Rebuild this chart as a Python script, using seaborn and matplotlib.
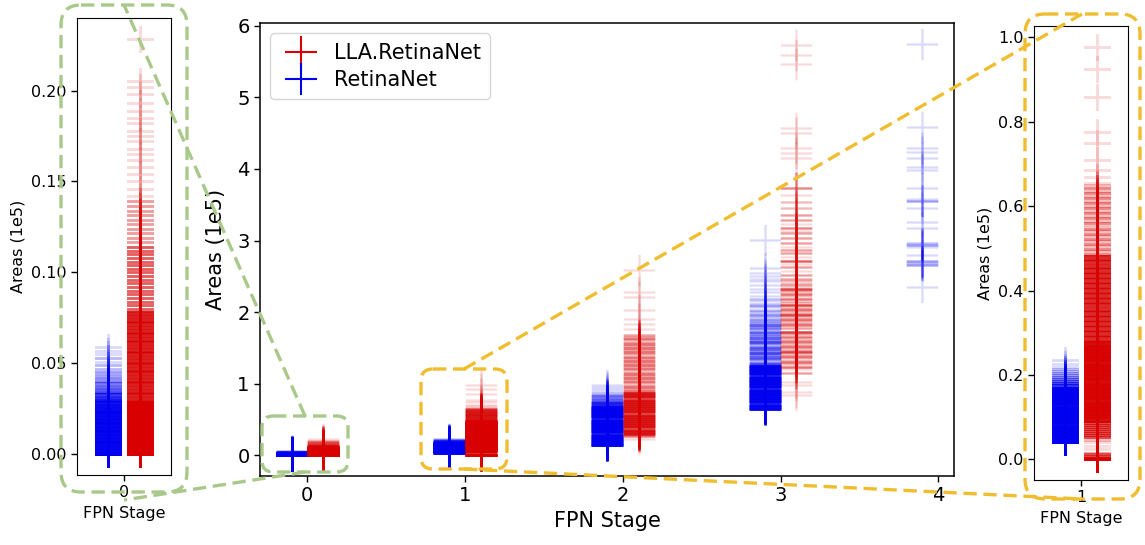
import numpy as np
import pandas as pd
import matplotlib
matplotlib.use("Agg")
import matplotlib.pyplot as plt
import seaborn as sns
from matplotlib.patches import FancyBboxPatch
from matplotlib.lines import Line2D

# ---------------- data (areas in units of 1e5), levels + number of boxes at each level ----------------
stages = [0, 1, 2, 3, 4]
models = ["LLA.RetinaNet", "RetinaNet"]

# RetinaNet, stage 0
b0_levels = [0.000, 0.0015, 0.003, 0.0045, 0.006, 0.0075, 0.009, 0.0105, 0.012, 0.0135,
             0.015, 0.0165, 0.018, 0.0195, 0.021, 0.0225, 0.024, 0.0255, 0.027, 0.0285,
             0.030, 0.0315, 0.033, 0.0345, 0.036, 0.0375, 0.039, 0.0405, 0.042, 0.0435,
             0.045, 0.047, 0.049, 0.051, 0.053, 0.055, 0.057, 0.059]
b0_counts = [30] + [24] * 16 + [22, 20, 18, 16, 12, 10, 8, 7, 6, 5, 4, 4, 3, 3, 2, 2, 1, 2, 1, 1, 1]

# LLA.RetinaNet, stage 0
r0_levels = [0.000, 0.0015, 0.003, 0.0045, 0.006, 0.0075, 0.009, 0.0105, 0.012, 0.0135,
             0.015, 0.0165, 0.018, 0.0195, 0.021, 0.0225, 0.024, 0.0255, 0.027, 0.0285,
             0.030, 0.0315, 0.033, 0.0345, 0.036, 0.0375, 0.039, 0.0405, 0.042, 0.0435,
             0.045, 0.0465, 0.048, 0.0495, 0.051, 0.0525, 0.054, 0.0555, 0.057, 0.0585,
             0.060, 0.0615, 0.063, 0.0645, 0.066, 0.0675, 0.069, 0.0705, 0.072, 0.0735,
             0.075, 0.0765, 0.078,
             0.080, 0.082, 0.084, 0.086, 0.088, 0.090, 0.092, 0.094, 0.096, 0.098,
             0.100, 0.102, 0.104, 0.106, 0.108, 0.110, 0.112, 0.114,
             0.1165, 0.119, 0.1215, 0.124, 0.1265, 0.129, 0.1315, 0.134, 0.1365, 0.139,
             0.142, 0.146, 0.150, 0.154, 0.158, 0.162, 0.165, 0.168, 0.172, 0.175,
             0.178, 0.182, 0.185, 0.189, 0.193, 0.198, 0.202, 0.2055,
             0.2285]
r0_counts = [30] * 20 + [14] * 33 + [6] * 18 + [3] * 10 + [1] * 18 + [1]

# RetinaNet, stage 1
b1_levels = [0.040, 0.045, 0.050, 0.055, 0.060, 0.065, 0.070, 0.075, 0.080, 0.085,
             0.090, 0.095, 0.100, 0.105, 0.110, 0.115, 0.120, 0.125, 0.130, 0.135,
             0.140, 0.145, 0.150, 0.155, 0.160, 0.165, 0.170,
             0.175, 0.180, 0.185, 0.190, 0.195, 0.200, 0.205, 0.210, 0.215, 0.220, 0.226, 0.235]
b1_counts = [30] + [24] * 26 + [10, 8, 6, 5, 4, 3, 3, 2, 2, 1, 1, 1]

# LLA.RetinaNet, stage 1
r1_levels = [0.000, 0.004, 0.008, 0.012, 0.016, 0.024, 0.032, 0.040, 0.046,
             0.052, 0.057, 0.062, 0.067, 0.072, 0.077, 0.082, 0.087,
             0.092, 0.097, 0.102, 0.107, 0.112, 0.117, 0.122, 0.127, 0.132, 0.137,
             0.142, 0.147, 0.152, 0.157, 0.162, 0.167, 0.172, 0.177, 0.182, 0.187,
             0.192, 0.197, 0.202, 0.207, 0.212, 0.217, 0.222, 0.227, 0.232, 0.237,
             0.242, 0.247, 0.252, 0.257, 0.262, 0.267, 0.272, 0.277,
             0.283, 0.289, 0.295, 0.301, 0.307, 0.313, 0.319, 0.325, 0.331, 0.337,
             0.343, 0.349, 0.355, 0.361, 0.367, 0.373, 0.379, 0.385, 0.391, 0.397,
             0.403, 0.409, 0.415, 0.421, 0.427, 0.433, 0.439, 0.445, 0.451, 0.457,
             0.463, 0.469, 0.475, 0.481,
             0.487, 0.493, 0.499, 0.505, 0.511, 0.517, 0.523, 0.529, 0.535, 0.541,
             0.547, 0.553, 0.559, 0.565, 0.571, 0.577, 0.583, 0.589, 0.595, 0.601,
             0.607, 0.613, 0.619, 0.625, 0.631, 0.637, 0.643, 0.649,
             0.656, 0.668, 0.686, 0.710, 0.750, 0.776, 0.858, 0.924, 0.978]
r1_counts = [30, 14, 8, 5, 3, 1, 1, 1, 2] + [8] * 8 + [20] * 38 + [12] * 34 + [4, 2] * 14 + [1] * 9

# RetinaNet, stage 2
b2_levels = [0.140, 0.170, 0.200, 0.230, 0.260, 0.290, 0.320, 0.350, 0.380, 0.410,
             0.440, 0.470, 0.500, 0.530, 0.560, 0.590, 0.620, 0.650, 0.675,
             0.700, 0.725, 0.750, 0.775, 0.800, 0.825, 0.850, 0.875, 0.900, 0.930, 0.960, 0.990]
b2_counts = [30] + [24] * 18 + [12, 9, 7, 6, 5, 4, 3, 2, 1, 1, 1, 1]

# LLA.RetinaNet, stage 2
r2_levels = [0.235, 0.270,
             0.300, 0.330, 0.360, 0.390, 0.420, 0.450, 0.480, 0.510, 0.540, 0.570,
             0.600, 0.630, 0.660, 0.690, 0.720, 0.750, 0.780, 0.810, 0.840, 0.870,
             0.900, 0.930, 0.960, 0.990, 1.020, 1.050, 1.080, 1.110, 1.140, 1.170,
             1.200, 1.230, 1.260, 1.290, 1.320, 1.350, 1.380, 1.410, 1.440, 1.470,
             1.500, 1.530, 1.560, 1.590, 1.620, 1.650, 1.680,
             1.760, 1.840, 1.910, 2.030, 2.210, 2.280, 2.590]
r2_counts = [1, 5] + [14] * 20 + [5, 3] * 13 + [3] + [1] * 7

# RetinaNet, stage 3
b3_levels = [0.650, 0.680, 0.710, 0.740, 0.770, 0.800, 0.830, 0.860, 0.890, 0.920,
             0.950, 0.980, 1.010, 1.040, 1.070, 1.100, 1.130, 1.160, 1.190, 1.220, 1.250,
             1.280, 1.310, 1.340, 1.370, 1.400, 1.430, 1.460, 1.490, 1.520, 1.550,
             1.580, 1.610, 1.640, 1.670, 1.700, 1.730, 1.760, 1.790, 1.820, 1.850,
             1.880, 1.910, 1.940,
             1.980, 2.010, 2.050, 2.090, 2.120, 2.160, 2.190, 2.230, 2.280, 2.330,
             2.380, 2.430, 2.470, 2.500, 2.550, 2.610,
             3.010]
b3_counts = ([22] * 21
             + [8, 4, 6, 6, 4, 8, 4, 6, 6, 4, 8, 4, 6, 4, 4, 6, 4, 4, 6, 3, 3, 3, 3]
             + [3, 3, 1, 3, 2, 1, 2, 1, 1, 1, 1, 1, 1, 1, 1, 1]
             + [1])

# LLA.RetinaNet, stage 3
r3_levels = [0.84, 0.89, 0.98, 1.03, 1.15, 1.20, 1.24, 1.27, 1.30, 1.335,
             1.37, 1.405, 1.44, 1.475, 1.51, 1.545, 1.58, 1.615, 1.65, 1.69,
             1.73, 1.775, 1.82, 1.855, 1.89, 1.925, 1.96, 1.995, 2.03, 2.065,
             2.10, 2.145, 2.19, 2.225, 2.26, 2.295, 2.33, 2.365, 2.40, 2.435,
             2.47, 2.52, 2.575, 2.63, 2.675, 2.72, 2.77, 2.82, 2.87, 2.915,
             2.96, 3.03, 3.10, 3.14, 3.18, 3.235, 3.29, 3.36, 3.45, 3.54,
             3.64, 3.73, 4.15, 4.22, 4.29, 4.50, 4.57, 5.46, 5.59, 5.73]
r3_counts = [1, 1, 1, 1, 3, 1, 5, 2, 5, 2,
             5, 3, 8, 3, 5, 3, 5, 3, 5, 3,
             8, 3, 5, 3, 5, 3, 8, 3, 5, 3,
             8, 3, 5, 2, 5, 3, 8, 2, 3, 2,
             3, 3, 1, 3, 1, 6, 1, 3, 3, 1,
             3, 3, 3, 1, 4, 1, 3, 3, 2, 2,
             1, 4, 1, 1, 1, 1, 1, 1, 1, 1]

# RetinaNet, stage 4 (no LLA.RetinaNet boxes at this stage)
b4_levels = [2.35, 2.66, 2.69, 2.72, 2.80, 2.91, 2.94, 2.97, 3.17, 3.26, 3.45,
             3.55, 3.58, 3.73, 3.99, 4.03, 4.15, 4.24, 4.29, 4.58, 5.75]
b4_counts = [1, 3, 2, 3, 1, 1, 3, 2, 1, 1, 1, 3, 1, 1, 1, 1, 1, 1, 1, 1, 1]

xtick_main = [0, 1, 2, 3, 4]
ytick_main = [0, 1, 2, 3, 4, 5, 6]
ytick_left = [0.00, 0.05, 0.10, 0.15, 0.20]
ytick_right = [0.0, 0.2, 0.4, 0.6, 0.8, 1.0]


def expand(levels, counts):
    n = min(len(levels), len(counts))
    return np.repeat(np.asarray(levels[:n], float), np.asarray(counts[:n], int))


groups = [
    ("RetinaNet", 0, b0_levels, b0_counts), ("LLA.RetinaNet", 0, r0_levels, r0_counts),
    ("RetinaNet", 1, b1_levels, b1_counts), ("LLA.RetinaNet", 1, r1_levels, r1_counts),
    ("RetinaNet", 2, b2_levels, b2_counts), ("LLA.RetinaNet", 2, r2_levels, r2_counts),
    ("RetinaNet", 3, b3_levels, b3_counts), ("LLA.RetinaNet", 3, r3_levels, r3_counts),
    ("RetinaNet", 4, b4_levels, b4_counts),
]
frames = []
for model, stage, lv, ct in groups:
    a = expand(lv, ct)
    frames.append(pd.DataFrame({"model": model, "stage": stage, "area": a}))
df = pd.concat(frames, ignore_index=True)

# ---------------- style ----------------
sns.set_style("ticks", rc={"axes.edgecolor": "black", "xtick.color": "black",
                           "ytick.color": "black", "text.color": "black",
                           "axes.labelcolor": "black"})
plt.rcParams["font.family"] = ["DejaVu Sans"]

COLORS = {"RetinaNet": "#0000f0", "LLA.RetinaNet": "#d80000"}
OFFSET = {"RetinaNet": -0.1, "LLA.RetinaNet": 0.1}
ALPHA = 0.15
W, H = 1145, 545

fig = plt.figure(figsize=(W / 100, H / 100), dpi=100)


def px_axes(x0, y0, x1, y1):
    return fig.add_axes([x0 / W, 1 - y1 / H, (x1 - x0) / W, (y1 - y0) / H])


def draw(ax, data, msize, lw):
    for model in ["RetinaNet", "LLA.RetinaNet"]:
        sub = data[data["model"] == model]
        if len(sub) == 0:
            continue
        sns.scatterplot(x=(sub["stage"] + OFFSET[model]).to_numpy(), y=sub["area"].to_numpy(),
                        ax=ax, color=COLORS[model], marker="+", s=msize ** 2,
                        linewidth=lw, alpha=ALPHA, legend=False, snap=False)


# main axes
ax = px_axes(260, 23, 954, 476)
draw(ax, df, 22.7, 1.6)
ax.set_xlim(-0.3, 4.1)
ax.set_ylim(-0.2875, 6.0375)
ax.set_xticks(xtick_main)
ax.set_yticks(ytick_main)
ax.tick_params(labelsize=14, width=1.0, length=4)
ax.set_xlabel("FPN Stage", fontsize=15)
ax.set_ylabel("Areas (1e5)", fontsize=15, labelpad=8)
for s in ax.spines.values():
    s.set_linewidth(1.1)
handles = [Line2D([0], [0], marker="+", ls="none", color=COLORS[m], markersize=22.7,
                  markeredgewidth=1.5, label=m) for m in models]
ax.legend(handles=handles, loc="upper left", fontsize=15, labelspacing=0.35,
          borderpad=0.45, handletextpad=0.6, borderaxespad=0.5)

# left inset: stage 0
axl = px_axes(77, 18, 171, 475)
draw(axl, df[df["stage"] == 0], 19.4, 2.0)
axl.set_xlim(-0.3, 0.3)
axl.set_ylim(-0.0114, 0.2399)
axl.set_xticks([0])
axl.set_yticks(ytick_left)
axl.set_yticklabels([f"{v:.2f}" for v in ytick_left])
axl.tick_params(labelsize=11.5, width=1.0, length=4)
axl.set_xlabel("FPN Stage", fontsize=11.5)
axl.set_ylabel("Areas (1e5)", fontsize=11.5)

# right inset: stage 1
axr = px_axes(1034, 26, 1128, 480)
draw(axr, df[df["stage"] == 1], 19.4, 2.0)
axr.set_xlim(0.7, 1.3)
axr.set_ylim(-0.049, 1.027)
axr.set_xticks([1])
axr.set_yticks(ytick_right)
axr.set_yticklabels([f"{v:.1f}" for v in ytick_right])
axr.tick_params(labelsize=11.5, width=1.0, length=4)
axr.set_xlabel("FPN Stage", fontsize=11.5)
axr.set_ylabel("Areas (1e5)", fontsize=11.5)

# ---------------- zoom boxes and connectors ----------------
ov = fig.add_axes([0, 0, 1, 1], zorder=20)
ov.set_xlim(0, W)
ov.set_ylim(H, 0)
ov.axis("off")
ov.patch.set_visible(False)

GREEN = "#a9c98b"
YELLOW = "#f0bd2f"
DASH = (0, (4, 2))
LW = 2.4


def rbox(x0, y0, x1, y1, r, color):
    ov.add_patch(FancyBboxPatch((x0, y0), x1 - x0, y1 - y0,
                                boxstyle=f"round,pad=0,rounding_size={r}",
                                fill=False, ec=color, lw=LW, ls=DASH))


rbox(262, 416, 348, 472, 11, GREEN)
rbox(421, 369, 507, 469, 12, YELLOW)
rbox(61, 5, 187, 492, 20, GREEN)
rbox(1025, 14, 1140, 499, 20, YELLOW)
ov.plot([305, 124], [416, 5], color=GREEN, lw=LW, ls=DASH)
ov.plot([305, 124], [472, 500], color=GREEN, lw=LW, ls=DASH)
ov.plot([464, 1082], [369, 14], color=YELLOW, lw=LW, ls=DASH)
ov.plot([464, 1082], [469, 499], color=YELLOW, lw=LW, ls=DASH)

fig.savefig("out.png", dpi=100)
